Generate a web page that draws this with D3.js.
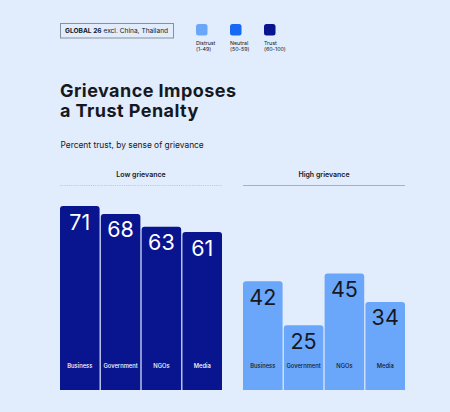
<!DOCTYPE html>
<html>
<head>
<meta charset="utf-8">
<script src="https://cdn.jsdelivr.net/npm/d3@7"></script>
<style>
  html, body { margin: 0; padding: 0; background: #e1ecfd; }
  svg { display: block; font-family: Inter, "Noto Sans", sans-serif; }
</style>
</head>
<body>
<div id="chart"></div>
<script>
// values
const categories = ["Business", "Government", "NGOs", "Media"];
const lowGrievance = [71, 68, 63, 61];
const highGrievance = [42, 25, 45, 34];
const legendItems = ["Distrust", "Neutral", "Trust"];
const legendRanges = ["(1-49)", "(50-59)", "(60-100)"];

const width = 450;
const height = 412;
const colors = { distrust: "#6aa7fa", neutral: "#1769f4", trust: "#09148f" };
const ink = "#16181f";

const svg = d3.select("#chart").append("svg")
  .attr("width", width)
  .attr("height", height);

svg.append("rect").attr("width", width).attr("height", height).attr("fill", "#e1ecfd");

// region tag
svg.append("rect")
  .attr("x", 60.5).attr("y", 23.5).attr("width", 113).attr("height", 14.5)
  .attr("fill", "none").attr("stroke", "#8a8f99").attr("stroke-width", 1);
const tag = svg.append("text").attr("x", 65).attr("y", 33.2)
  .attr("font-size", 6.6).attr("fill", ink);
tag.append("tspan").attr("font-weight", 700).text("GLOBAL 26");
tag.append("tspan").text(" excl. China, Thailand");

// legend
const legendColor = d3.scaleOrdinal().domain(legendItems)
  .range([colors.distrust, colors.neutral, colors.trust]);
const legendX = d3.scalePoint().domain(legendItems).range([196, 264]);
const lg = svg.append("g").selectAll("g").data(legendItems).join("g")
  .attr("transform", d => `translate(${legendX(d)},24)`);
lg.append("rect").attr("width", 11.5).attr("height", 11.5).attr("rx", 2.5)
  .attr("fill", d => legendColor(d));
lg.append("text").attr("y", 20.8).attr("font-size", 5.3).attr("fill", ink).text(d => d);
lg.append("text").attr("y", 27.2).attr("font-size", 5.3).attr("fill", ink)
  .text((d, i) => legendRanges[i]);

// title
svg.append("text").attr("x", 60).attr("y", 97)
  .attr("font-size", 18).attr("font-weight", 700).attr("fill", ink)
  .attr("letter-spacing", 0.45).text("Grievance Imposes");
svg.append("text").attr("x", 60).attr("y", 116.5)
  .attr("font-size", 18).attr("font-weight", 700).attr("fill", ink)
  .attr("letter-spacing", 0.45).text("a Trust Penalty");
svg.append("text").attr("x", 60.5).attr("y", 147.5)
  .attr("font-size", 8.4).attr("fill", ink).text("Percent trust, by sense of grievance");

// shared value scale
const y = d3.scaleLinear().domain([0, 100]).range([390, 131]);

function topRounded(x, yTop, w, h, r) {
  return `M${x},${yTop + h}V${yTop + r}Q${x},${yTop} ${x + r},${yTop}` +
    `H${x + w - r}Q${x + w},${yTop} ${x + w},${yTop + r}V${yTop + h}Z`;
}

function panel(title, values, x0, x1, fill, textFill, dotted) {
  const x = d3.scaleBand().domain(categories).range([x0, x1]).paddingInner(0.03);
  const g = svg.append("g");

  g.append("text").attr("x", (x0 + x1) / 2).attr("y", 176.5)
    .attr("text-anchor", "middle").attr("font-size", 7).attr("font-weight", 600)
    .attr("fill", ink).text(title);
  g.append("line").attr("x1", x0).attr("x2", x1).attr("y1", 185.5).attr("y2", 185.5)
    .attr("stroke", dotted ? "#b9c1d2" : "#a6b0c4").attr("stroke-width", dotted ? 0.8 : 1)
    .attr("stroke-dasharray", dotted ? "1.2,1" : null);

  const bars = g.selectAll("g.bar").data(categories).join("g").attr("class", "bar");
  bars.append("path")
    .attr("d", (d, i) => topRounded(x(d), y(values[i]), x.bandwidth(), y(0) - y(values[i]), 3))
    .attr("fill", fill);
  bars.append("text")
    .attr("x", d => x(d) + x.bandwidth() / 2)
    .attr("y", (d, i) => y(values[i]) + 23.5)
    .attr("text-anchor", "middle").attr("font-size", 21.5).attr("fill", textFill)
    .text((d, i) => values[i]);
  bars.append("text")
    .attr("x", d => x(d) + x.bandwidth() / 2)
    .attr("y", 367.5)
    .attr("text-anchor", "middle").attr("font-size", 5.8).attr("font-weight", 500)
    .attr("fill", textFill).text(d => d);
}

panel("Low grievance", lowGrievance, 60, 222, colors.trust, "#ffffff", true);
panel("High grievance", highGrievance, 243, 405, colors.distrust, ink, false);
</script>
</body>
</html>
